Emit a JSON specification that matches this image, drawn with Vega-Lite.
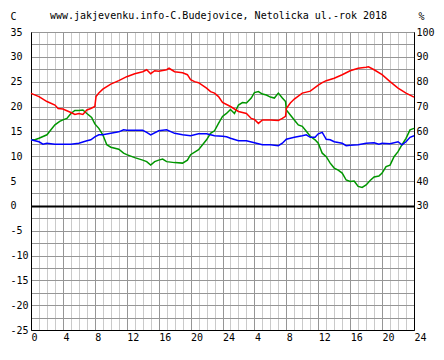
{
  "$schema": "https://vega.github.io/schema/vega-lite/v6.json",
  "width": 383,
  "height": 298,
  "autosize": {"type": "none"},
  "padding": {"left": 31, "top": 32, "right": 30, "bottom": 30},
  "background": "white",
  "config": {
    "font": "DejaVu Sans Mono",
    "view": {"stroke": "black", "strokeWidth": 1},
    "axis": {"labelFont": "DejaVu Sans Mono", "labelFontSize": 10, "labelColor": "black", "titleFont": "DejaVu Sans Mono", "titleFontSize": 10, "titleFontWeight": "normal", "titleColor": "black", "domainColor": "black"}
  },
  "title": {"text": "www.jakjevenku.info-C.Budejovice, Netolicka ul.-rok 2018", "font": "DejaVu Sans Mono", "fontSize": 10, "fontWeight": "normal", "anchor": "middle", "frame": "group", "offset": 0, "dy": 10, "dx": -4, "color": "black"},
  "datasets": {
    "temp": [
      {"h": 0, "c": 13.3, "s": "green"}, {"h": 0.5, "c": 13.3, "s": "green"}, {"h": 1, "c": 13.6, "s": "green"}, {"h": 2, "c": 14.3, "s": "green"}, {"h": 2.5, "c": 15.3, "s": "green"}, {"h": 3, "c": 16.3, "s": "green"}, {"h": 3.6, "c": 17.0, "s": "green"}, {"h": 4, "c": 17.3, "s": "green"}, {"h": 4.5, "c": 17.6, "s": "green"}, {"h": 5, "c": 18.6, "s": "green"}, {"h": 5.5, "c": 19.2, "s": "green"}, {"h": 6, "c": 19.2, "s": "green"}, {"h": 6.5, "c": 19.3, "s": "green"}, {"h": 7, "c": 18.6, "s": "green"}, {"h": 7.6, "c": 17.8, "s": "green"}, {"h": 8, "c": 16.5, "s": "green"}, {"h": 8.5, "c": 15.6, "s": "green"}, {"h": 9, "c": 14.3, "s": "green"}, {"h": 9.5, "c": 12.3, "s": "green"}, {"h": 10, "c": 11.8, "s": "green"}, {"h": 11, "c": 11.4, "s": "green"}, {"h": 11.6, "c": 10.6, "s": "green"}, {"h": 12, "c": 10.3, "s": "green"}, {"h": 13, "c": 9.7, "s": "green"}, {"h": 14, "c": 9.2, "s": "green"}, {"h": 14.5, "c": 8.9, "s": "green"}, {"h": 15, "c": 8.2, "s": "green"}, {"h": 15.5, "c": 8.9, "s": "green"}, {"h": 16, "c": 9.2, "s": "green"}, {"h": 16.5, "c": 9.4, "s": "green"}, {"h": 17, "c": 8.9, "s": "green"}, {"h": 18, "c": 8.7, "s": "green"}, {"h": 19, "c": 8.6, "s": "green"}, {"h": 19.6, "c": 9.2, "s": "green"}, {"h": 20, "c": 10.3, "s": "green"}, {"h": 21, "c": 11.3, "s": "green"}, {"h": 22, "c": 13.3, "s": "green"}, {"h": 22.5, "c": 14.6, "s": "green"}, {"h": 23, "c": 15.1, "s": "green"}, {"h": 23.5, "c": 16.6, "s": "green"}, {"h": 24, "c": 18.0, "s": "green"}, {"h": 24.5, "c": 18.6, "s": "green"}, {"h": 25, "c": 19.4, "s": "green"}, {"h": 25.5, "c": 18.6, "s": "green"}, {"h": 26, "c": 20.3, "s": "green"}, {"h": 26.5, "c": 20.8, "s": "green"}, {"h": 27, "c": 20.7, "s": "green"}, {"h": 27.6, "c": 21.7, "s": "green"}, {"h": 28, "c": 22.8, "s": "green"}, {"h": 28.5, "c": 23.0, "s": "green"}, {"h": 29, "c": 22.5, "s": "green"}, {"h": 29.5, "c": 22.3, "s": "green"}, {"h": 30, "c": 21.9, "s": "green"}, {"h": 30.5, "c": 21.7, "s": "green"}, {"h": 31, "c": 22.7, "s": "green"}, {"h": 31.5, "c": 21.7, "s": "green"}, {"h": 31.9, "c": 21.0, "s": "green"}, {"h": 32, "c": 19.3, "s": "green"}, {"h": 32.5, "c": 18.3, "s": "green"}, {"h": 33, "c": 17.3, "s": "green"}, {"h": 33.5, "c": 16.3, "s": "green"}, {"h": 34, "c": 16.0, "s": "green"}, {"h": 34.5, "c": 15.0, "s": "green"}, {"h": 35, "c": 14.0, "s": "green"}, {"h": 35.6, "c": 13.3, "s": "green"}, {"h": 36, "c": 12.6, "s": "green"}, {"h": 36.5, "c": 10.6, "s": "green"}, {"h": 37, "c": 9.9, "s": "green"}, {"h": 37.5, "c": 8.6, "s": "green"}, {"h": 38, "c": 7.6, "s": "green"}, {"h": 38.5, "c": 7.2, "s": "green"}, {"h": 39, "c": 6.6, "s": "green"}, {"h": 39.5, "c": 5.2, "s": "green"}, {"h": 40, "c": 4.9, "s": "green"}, {"h": 40.5, "c": 5.0, "s": "green"}, {"h": 41, "c": 3.9, "s": "green"}, {"h": 41.5, "c": 3.7, "s": "green"}, {"h": 42, "c": 4.2, "s": "green"}, {"h": 42.5, "c": 5.1, "s": "green"}, {"h": 43, "c": 5.8, "s": "green"}, {"h": 43.6, "c": 6.0, "s": "green"}, {"h": 44, "c": 6.6, "s": "green"}, {"h": 44.5, "c": 7.9, "s": "green"}, {"h": 45, "c": 8.2, "s": "green"}, {"h": 45.5, "c": 9.9, "s": "green"}, {"h": 46, "c": 10.9, "s": "green"}, {"h": 46.5, "c": 12.3, "s": "green"}, {"h": 47, "c": 13.6, "s": "green"}, {"h": 47.5, "c": 15.3, "s": "green"}, {"h": 48, "c": 15.6, "s": "green"},
      {"h": 0, "c": 13.3, "s": "blue"}, {"h": 1, "c": 12.9, "s": "blue"}, {"h": 1.5, "c": 12.4, "s": "blue"}, {"h": 2, "c": 12.6, "s": "blue"}, {"h": 3, "c": 12.4, "s": "blue"}, {"h": 4, "c": 12.4, "s": "blue"}, {"h": 5, "c": 12.4, "s": "blue"}, {"h": 6, "c": 12.6, "s": "blue"}, {"h": 7, "c": 13.1, "s": "blue"}, {"h": 7.5, "c": 13.3, "s": "blue"}, {"h": 8, "c": 13.9, "s": "blue"}, {"h": 8.5, "c": 14.3, "s": "blue"}, {"h": 9, "c": 14.3, "s": "blue"}, {"h": 10, "c": 14.6, "s": "blue"}, {"h": 11, "c": 14.9, "s": "blue"}, {"h": 11.6, "c": 15.3, "s": "blue"}, {"h": 12, "c": 15.2, "s": "blue"}, {"h": 13, "c": 15.2, "s": "blue"}, {"h": 14, "c": 15.2, "s": "blue"}, {"h": 14.5, "c": 14.8, "s": "blue"}, {"h": 15, "c": 14.3, "s": "blue"}, {"h": 16, "c": 15.1, "s": "blue"}, {"h": 17, "c": 15.3, "s": "blue"}, {"h": 18, "c": 14.6, "s": "blue"}, {"h": 19, "c": 14.3, "s": "blue"}, {"h": 20, "c": 14.1, "s": "blue"}, {"h": 21, "c": 14.5, "s": "blue"}, {"h": 22, "c": 14.5, "s": "blue"}, {"h": 23, "c": 14.1, "s": "blue"}, {"h": 24, "c": 14.0, "s": "blue"}, {"h": 24.5, "c": 13.9, "s": "blue"}, {"h": 25, "c": 13.6, "s": "blue"}, {"h": 26, "c": 13.1, "s": "blue"}, {"h": 27, "c": 13.1, "s": "blue"}, {"h": 28, "c": 12.7, "s": "blue"}, {"h": 29, "c": 12.3, "s": "blue"}, {"h": 30, "c": 12.3, "s": "blue"}, {"h": 31, "c": 12.1, "s": "blue"}, {"h": 31.5, "c": 12.6, "s": "blue"}, {"h": 32, "c": 13.4, "s": "blue"}, {"h": 33, "c": 13.8, "s": "blue"}, {"h": 34, "c": 14.1, "s": "blue"}, {"h": 34.5, "c": 14.3, "s": "blue"}, {"h": 35, "c": 13.8, "s": "blue"}, {"h": 35.6, "c": 13.8, "s": "blue"}, {"h": 36, "c": 14.5, "s": "blue"}, {"h": 36.5, "c": 14.8, "s": "blue"}, {"h": 37, "c": 13.4, "s": "blue"}, {"h": 37.5, "c": 13.3, "s": "blue"}, {"h": 38, "c": 12.9, "s": "blue"}, {"h": 39, "c": 12.6, "s": "blue"}, {"h": 39.5, "c": 12.1, "s": "blue"}, {"h": 40, "c": 12.2, "s": "blue"}, {"h": 41, "c": 12.3, "s": "blue"}, {"h": 42, "c": 12.6, "s": "blue"}, {"h": 43, "c": 12.7, "s": "blue"}, {"h": 43.6, "c": 12.4, "s": "blue"}, {"h": 44, "c": 12.6, "s": "blue"}, {"h": 45, "c": 12.5, "s": "blue"}, {"h": 46, "c": 12.9, "s": "blue"}, {"h": 46.5, "c": 12.3, "s": "blue"}, {"h": 47, "c": 12.9, "s": "blue"}, {"h": 47.5, "c": 13.8, "s": "blue"}, {"h": 48, "c": 14.1, "s": "blue"}
    ],
    "hum": [
      {"h": 0, "p": 75.3}, {"h": 1, "p": 74.0}, {"h": 2, "p": 72.0}, {"h": 3, "p": 70.6}, {"h": 3.4, "p": 69.2}, {"h": 4, "p": 69.0}, {"h": 5, "p": 67.6}, {"h": 5.5, "p": 66.8}, {"h": 6, "p": 67.2}, {"h": 6.5, "p": 66.8}, {"h": 7, "p": 68.6}, {"h": 7.5, "p": 69.2}, {"h": 8, "p": 70.0}, {"h": 8.15, "p": 74.0}, {"h": 8.5, "p": 75.4}, {"h": 9, "p": 77.0}, {"h": 10, "p": 79.0}, {"h": 11, "p": 80.4}, {"h": 12, "p": 82.0}, {"h": 13, "p": 83.2}, {"h": 14, "p": 84.0}, {"h": 14.5, "p": 84.8}, {"h": 15, "p": 83.2}, {"h": 15.5, "p": 84.4}, {"h": 16, "p": 84.2}, {"h": 17, "p": 84.8}, {"h": 17.3, "p": 85.4}, {"h": 18, "p": 84.0}, {"h": 19, "p": 83.6}, {"h": 19.6, "p": 82.8}, {"h": 20, "p": 80.8}, {"h": 20.5, "p": 80.0}, {"h": 21, "p": 79.6}, {"h": 22, "p": 77.4}, {"h": 22.5, "p": 76.0}, {"h": 23, "p": 75.4}, {"h": 23.5, "p": 74.0}, {"h": 24, "p": 71.6}, {"h": 25, "p": 70.0}, {"h": 26, "p": 68.0}, {"h": 27, "p": 67.2}, {"h": 27.6, "p": 65.2}, {"h": 28, "p": 64.8}, {"h": 28.5, "p": 63.2}, {"h": 29, "p": 64.6}, {"h": 30, "p": 64.6}, {"h": 31, "p": 64.4}, {"h": 31.5, "p": 65.2}, {"h": 31.9, "p": 66.0}, {"h": 32, "p": 69.2}, {"h": 32.5, "p": 71.4}, {"h": 33, "p": 73.0}, {"h": 34, "p": 75.4}, {"h": 35, "p": 76.2}, {"h": 36, "p": 78.6}, {"h": 36.5, "p": 79.6}, {"h": 37, "p": 80.4}, {"h": 38, "p": 81.4}, {"h": 39, "p": 82.8}, {"h": 40, "p": 84.4}, {"h": 41, "p": 85.4}, {"h": 42, "p": 85.8}, {"h": 42.3, "p": 86.0}, {"h": 43, "p": 84.8}, {"h": 44, "p": 82.8}, {"h": 45, "p": 80.0}, {"h": 46, "p": 77.4}, {"h": 47, "p": 75.4}, {"h": 48, "p": 73.8}
    ]
  },
  "layer": [
    {
      "data": {"name": "temp"},
      "mark": {"type": "line", "strokeWidth": 1.5},
      "encoding": {
        "x": {"field": "h", "type": "quantitative", "scale": {"domain": [0, 48], "nice": false, "zero": false},
          "axis": {"values": [0,1,2,3,4,5,6,7,8,9,10,11,12,13,14,15,16,17,18,19,20,21,22,23,24,25,26,27,28,29,30,31,32,33,34,35,36,37,38,39,40,41,42,43,44,45,46,47,48],
            "tickCount": 200,
            "grid": true, "gridColor": {"condition": {"test": "datum.value % 4 == 0", "value": "#969696"}, "value": "#cacaca"}, "gridOpacity": 1, "gridWidth": 1,
            "labelExpr": "datum.value % 4 == 0 ? (datum.value == 0 ? '0' : (datum.value % 24 == 0 ? '24' : toString(datum.value % 24))) : ''",
            "labelAlign": "left", "labelBaseline": "top", "labelPadding": 2, "ticks": false, "tickSize": 0, "labelOverlap": false, "labelFlush": false, "title": null, "domainColor": "black"}},
        "y": {"field": "c", "type": "quantitative", "scale": {"domain": [-25, 35], "nice": false, "zero": false},
          "axis": {"values": [-25,-22.5,-20,-17.5,-15,-12.5,-10,-7.5,-5,-2.5,0,2.5,5,7.5,10,12.5,15,17.5,20,22.5,25,27.5,30,32.5,35],
            "tickCount": 200,
            "grid": true, "gridColor": {"condition": {"test": "datum.value == 0", "value": "black"}, "value": "#969696"}, "gridOpacity": 1,
            "gridWidth": {"condition": {"test": "datum.value == 0", "value": 2}, "value": 1},
            "labelExpr": "datum.value % 5 == 0 ? toString(datum.value) : ''",
            "labelAlign": "left", "labelBaseline": "middle", "labelPadding": 21, "ticks": false, "tickSize": 0, "labelOverlap": false, "labelFlush": false,
            "title": "C", "titleAngle": 0, "titleAlign": "left", "titleBaseline": "middle", "titleX": -21, "titleY": -16, "domainColor": "black"}},
        "color": {"field": "s", "type": "nominal", "scale": {"domain": ["green", "blue"], "range": ["#009600", "#0000ff"]}, "legend": null}
      }
    },
    {
      "data": {"name": "hum"},
      "mark": {"type": "line", "color": "#ff0000", "strokeWidth": 1.5},
      "encoding": {
        "x": {"field": "h", "type": "quantitative"},
        "y": {"field": "p", "type": "quantitative", "scale": {"domain": [-20, 100], "nice": false, "zero": false},
          "axis": {"orient": "right", "values": [30,40,50,60,70,80,90,100], "tickCount": 200, "grid": false,
            "labelExpr": "toString(datum.value)", "labelAlign": "left", "labelBaseline": "middle", "labelPadding": 2, "ticks": false, "tickSize": 0, "labelOverlap": false, "labelFlush": false,
            "title": "%", "titleAngle": 0, "titleAlign": "left", "titleBaseline": "middle", "titleX": 4, "titleY": -16, "domainColor": "black"}}
      }
    }
  ],
  "resolve": {"scale": {"y": "independent"}}
}
